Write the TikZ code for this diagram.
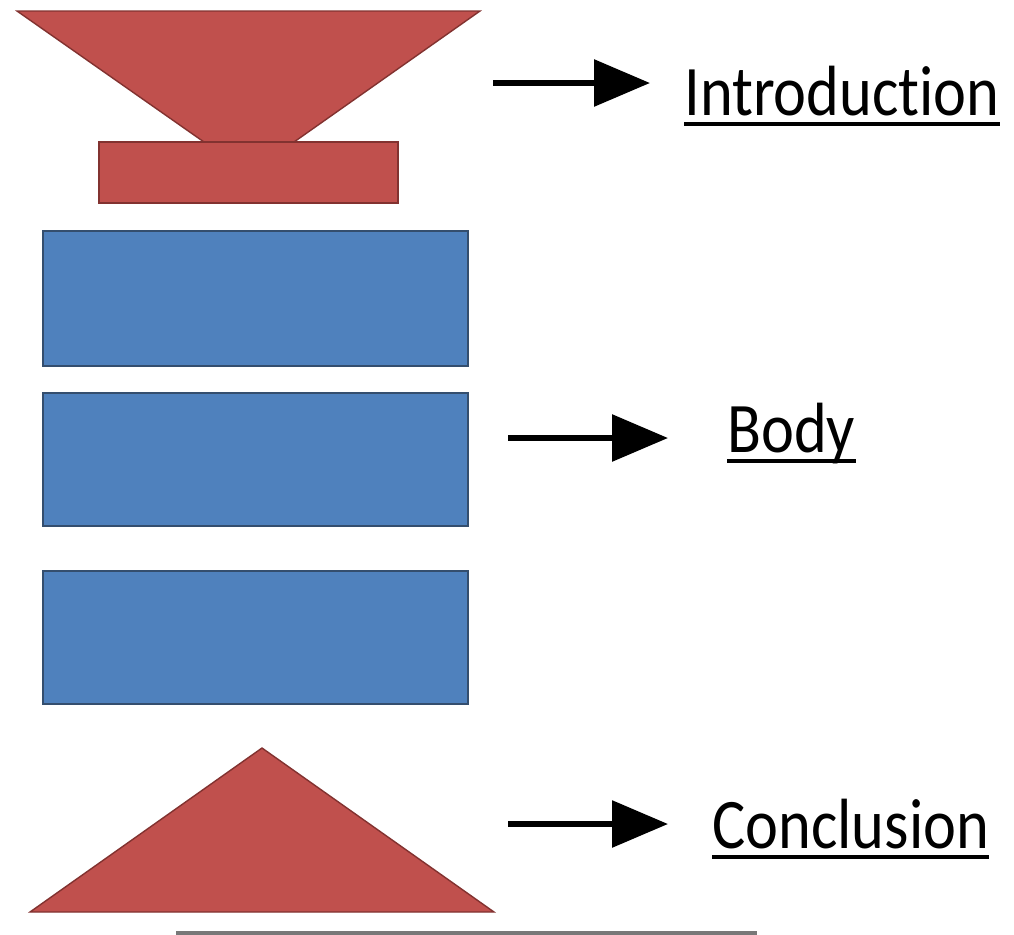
\documentclass[tikz,border=0pt]{standalone}
\usepackage{fontspec}
\setmainfont{Carlito}[Ligatures={NoCommon, NoRequired, NoContextual}]
\usepackage{tikz}
\usetikzlibrary{arrows.meta, positioning, calc}
\definecolor{introred}{RGB}{192, 80, 77}
\definecolor{introredline}{RGB}{130, 50, 48}
\definecolor{bodyblue}{RGB}{79, 129, 189}
\definecolor{bodyblueline}{RGB}{52, 78, 110}
\definecolor{rulegray}{RGB}{120, 120, 120}

\begin{document}
\begin{tikzpicture}[
  x=0.02cm, y=0.02cm,
  redpart/.style={fill=introred, draw=introredline, line width=0.8pt},
  bluepart/.style={fill=bodyblue, draw=bodyblueline, line width=0.8pt},
  partname/.style={font=\fontsize{35.5}{40}\selectfont, inner sep=0pt, anchor=base west, yscale=1.14, transform shape},
  underrule/.style={line width=2pt, black},
  pointer/.style={-{Triangle[length=1.12cm, width=0.92cm]}, line width=3.4pt, black}
]
\useasboundingbox (0,0) rectangle (1014,-934);

% Introduction
\draw[redpart] (17,-11) -- (480,-11) -- (294,-142) -- (204,-142) -- cycle;
\draw[redpart] (99,-142) rectangle (398,-203);

% Body
\draw[bluepart] (43,-231) rectangle (468,-366);
\draw[bluepart] (43,-393) rectangle (468,-526);
\draw[bluepart] (43,-571) rectangle (468,-704);

% Conclusion
\draw[redpart] (30,-912) -- (494,-912) -- (262,-748) -- cycle;
\draw[rulegray, line width=2.4pt] (176,-933) -- (757,-933);

% Labels
\node[partname] (intro) at (684,-115) {Introduction};
\node[partname] (body) at (727,-452) {Body};
\node[partname] (concl) at (712,-848) {Conclusion};

\draw[underrule] ([yshift=-5pt]intro.base west) -- ([yshift=-5pt]intro.base east);
\draw[underrule] ([yshift=-5pt]body.base west) -- ([yshift=-5pt]body.base east);
\draw[underrule] ([yshift=-5pt]concl.base west) -- ([yshift=-5pt]concl.base east);

\coordinate (introArr) at (493,-83);
\coordinate (bodyArr) at (508,-438);
\coordinate (conclArr) at (508,-824);

\draw[pointer, shorten >=0.68cm] (introArr) -- (introArr -| intro.west);
\draw[pointer, shorten >=1.18cm] (bodyArr) -- (bodyArr -| body.west);
\draw[pointer, shorten >=0.88cm] (conclArr) -- (conclArr -| concl.west);

\end{tikzpicture}
\end{document}
